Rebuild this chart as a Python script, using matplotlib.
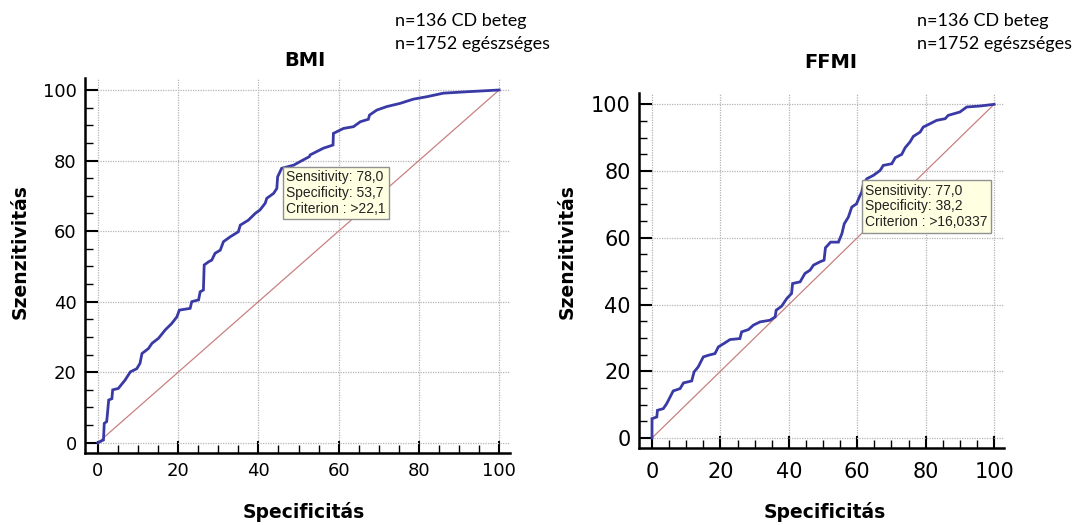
import matplotlib
matplotlib.use("Agg")
import matplotlib.pyplot as plt
from matplotlib.ticker import MultipleLocator

# ---- data (100 - specificity, sensitivity) ----
bmi_x = [0, 1.4, 1.6, 2.2, 2.4, 2.7, 3.5, 3.7, 5.1, 6.8, 8.1, 9.7, 10.5, 11.0, 12.6, 13.5,
         15.1, 16.8, 18.4, 19.7, 20.3, 23.0, 23.4, 25.1, 25.5, 26.3, 26.5, 27.6, 28.4, 29.2,
         30.5, 31.3, 33.0, 35.0, 35.5, 37.5, 39.2, 40.4, 41.7, 42.1, 43.8, 44.6, 44.8, 45.8,
         48.8, 51.2, 52.7, 52.9, 56.2, 58.6, 58.7, 61.2, 63.7, 65.4, 67.4, 67.7, 69.5, 72.0,
         75.3, 78.6, 82.0, 86.1, 91.9, 100]
bmi_y = [0, 0.8, 5.5, 6.0, 8.3, 12.1, 12.5, 15.0, 15.4, 17.8, 20.1, 21.0, 22.5, 25.3, 26.7,
         28.2, 29.6, 32.0, 33.8, 35.7, 37.6, 38.1, 40.0, 40.5, 42.8, 43.3, 50.4, 51.3, 51.8,
         53.7, 54.6, 57.0, 58.4, 59.8, 61.7, 63.1, 65.0, 66.0, 67.9, 69.3, 70.7, 72.1, 75.4,
         77.8, 78.7, 80.2, 81.1, 81.6, 83.5, 84.4, 87.7, 89.1, 89.6, 91.0, 91.7, 92.9, 94.3,
         95.3, 96.2, 97.4, 98.1, 99.1, 99.5, 100]

ffmi_x = [0, 0, 1.4, 1.6, 3.3, 4.3, 5.3, 6.2, 8.2, 9.2, 11.6, 12.3, 13.5, 15.0, 16.5, 18.4,
          19.4, 21.3, 22.8, 25.7, 26.2, 28.2, 29.6, 31.6, 34.5, 36.0, 36.3, 37.9, 39.4, 40.8,
          41.1, 43.3, 44.7, 46.2, 47.2, 49.1, 50.3, 50.7, 52.2, 54.5, 55.5, 56.2, 57.4, 58.4,
          59.8, 60.6, 61.3, 61.8, 62.8, 64.7, 66.7, 67.6, 70.1, 71.1, 73.0, 74.0, 75.4, 76.4,
          78.4, 79.3, 81.3, 83.2, 85.7, 86.6, 90.0, 92.0, 95.9, 100]
ffmi_y = [0, 5.8, 6.3, 8.3, 8.8, 10.3, 12.3, 14.1, 14.8, 16.5, 17.1, 19.8, 21.3, 24.3, 24.8,
          25.3, 27.3, 28.5, 29.5, 29.8, 31.8, 32.5, 33.8, 34.8, 35.3, 36.3, 38.3, 39.5, 41.8,
          43.3, 46.3, 46.8, 49.3, 50.3, 51.8, 52.8, 53.3, 57.0, 58.7, 58.7, 61.2, 64.2, 66.2,
          69.2, 70.2, 72.2, 73.7, 76.2, 77.7, 78.7, 80.2, 81.7, 82.2, 84.0, 85.0, 87.0, 88.7,
          90.4, 91.7, 93.2, 94.2, 95.2, 95.7, 96.7, 97.7, 99.2, 99.5, 100]

ticks = [0, 20, 40, 60, 80, 100]
titles = ["BMI", "FFMI"]
cut_bmi = ["Sensitivity: 78,0", "Specificity: 53,7", "Criterion : >22,1"]
cut_ffmi = ["Sensitivity: 77,0", "Specificity: 38,2", "Criterion : >16,0337"]
cut_pts = [(46.3, 78.0), (61.8, 77.0)]
ntext = ["n=136 CD beteg", "n=1752 egészséges"]
xlab = "Specificitás"
ylab = "Szenzitivitás"

fig = plt.figure(figsize=(10.78, 5.25), dpi=100)
W, H = 1078, 525

def px_axes(l, t, r, b):
    return fig.add_axes([l / W, 1 - b / H, (r - l) / W, (b - t) / H])

axL = px_axes(85, 78, 510, 453)
axR = px_axes(639, 93, 1004, 448)

curve_col = "#3a3aa6"
diag_col = "#c98080"

configs = [
    (axL, bmi_x, bmi_y, (-3.2, 102.7), (-2.9, 103.4), 13, 6.5, cut_bmi),
    (axR, ffmi_x, ffmi_y, (-3.8, 102.9), (-3.0, 103.4), 15, 10, cut_ffmi),
]

for i, (ax, xs, ys, xl, yl, tfs, xpad, cut) in enumerate(configs):
    ax.set_xlim(*xl)
    ax.set_ylim(*yl)
    ax.grid(True, which="major", color="#b5b5b5", linestyle=(0, (1, 1)), linewidth=0.9)
    ax.set_axisbelow(True)
    ax.plot([0, 100], [0, 100], color=diag_col, lw=0.9, zorder=2)
    ax.plot(xs, ys, color=curve_col, lw=2.0, zorder=3, solid_joinstyle="miter")
    for s in ["top", "right"]:
        ax.spines[s].set_visible(False)
    for s in ["left", "bottom"]:
        ax.spines[s].set_linewidth(1.8)
    ax.set_xticks(ticks)
    ax.set_yticks(ticks)
    ax.xaxis.set_minor_locator(MultipleLocator(5))
    ax.yaxis.set_minor_locator(MultipleLocator(5))
    ax.tick_params(which="major", direction="in", length=9, width=1.5,
                   labelsize=tfs)
    ax.tick_params(axis="x", which="major", pad=xpad)
    ax.tick_params(axis="y", which="major", pad=6)
    ax.tick_params(which="minor", direction="in", length=6, width=1.0)
    for lab in ax.get_xticklabels() + ax.get_yticklabels():
        lab.set_fontfamily("DejaVu Sans")
    px, py = cut_pts[i]
    ax.text(px + 0.6, py - 0.8, "\n".join(cut), fontsize=10, fontfamily="Liberation Sans",
            color="#222222", va="top", ha="left", linespacing=1.15, zorder=5,
            bbox=dict(boxstyle="square,pad=0.25", fc="#ffffe1", ec="#909090", lw=1.0))

# axis labels
for xc in (304, 825):
    fig.text(xc / W, 1 - 512 / H, xlab, ha="center", va="center", fontsize=13.5,
             fontweight="bold", fontfamily="DejaVu Sans")
for xc in (20, 567):
    fig.text(xc / W, 1 - 252 / H, ylab, ha="center", va="center", fontsize=13.5,
             fontweight="bold", fontfamily="DejaVu Sans", rotation=90)

fig.text(305 / W, 1 - 61 / H, titles[0], ha="center", va="center", fontsize=14,
         fontweight="bold", fontfamily="DejaVu Sans")
fig.text(831 / W, 1 - 63 / H, titles[1], ha="center", va="center", fontsize=14,
         fontweight="bold", fontfamily="DejaVu Sans")

for xpx in (395, 917):
    fig.text(xpx / W, 1 - 21 / H, ntext[0], ha="left", va="center", fontsize=13,
             fontfamily="Lato")
    fig.text(xpx / W, 1 - 44 / H, ntext[1], ha="left", va="center", fontsize=13,
             fontfamily="Lato")

fig.savefig("out.png", dpi=100)
